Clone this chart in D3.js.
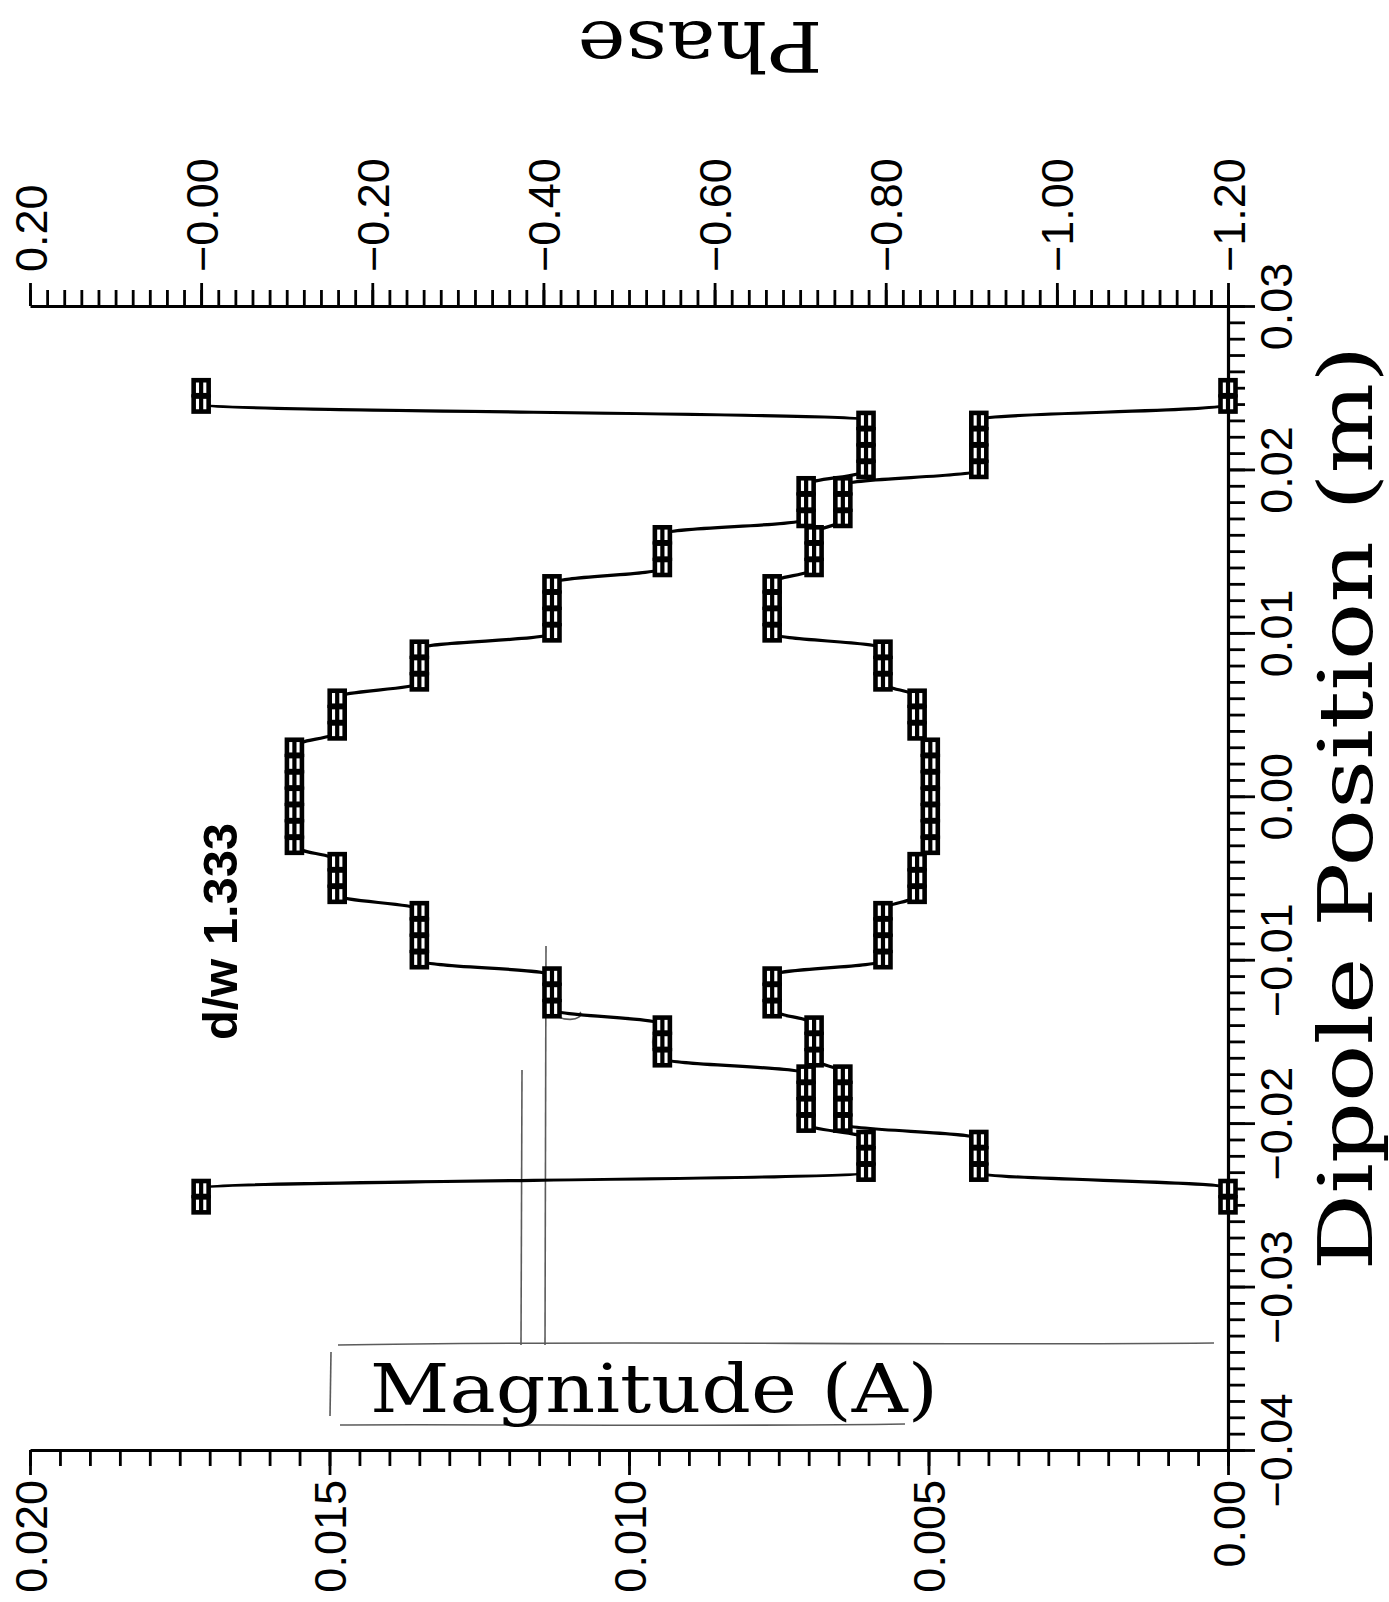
<!DOCTYPE html>
<html>
<head>
<meta charset="utf-8">
<script src="https://cdn.jsdelivr.net/npm/d3@7"></script>
<style>
  html, body { margin: 0; padding: 0; background: #fff; }
  svg { display: block; }
  .tick line { stroke: #000; stroke-width: 2.8; }
  .domain { stroke: #000; stroke-width: 3.2; }
</style>
</head>
<body>
<svg id="chart"></svg>
<script>
// dipole position (m), one sample every mm, top of the picture first
const positions = [
  0.025, 0.024, 0.023, 0.022, 0.021, 0.020, 0.019, 0.018, 0.017, 0.016,
  0.015, 0.014, 0.013, 0.012, 0.011, 0.010, 0.009, 0.008, 0.007, 0.006,
  0.005, 0.004, 0.003, 0.002, 0.001, 0.000, -0.001, -0.002, -0.003, -0.004,
  -0.005, -0.006, -0.007, -0.008, -0.009, -0.010, -0.011, -0.012, -0.013, -0.014,
  -0.015, -0.016, -0.017, -0.018, -0.019, -0.020, -0.021, -0.022, -0.023, -0.024,
  -0.025
];

// magnitude (A)
const magnitude = [
  0, 0, 0.00416, 0.00416, 0.00416, 0.00416, 0.00643, 0.00643, 0.00643, 0.00691,
  0.00691, 0.00691, 0.00761, 0.00761, 0.00761, 0.00761, 0.00576, 0.00576, 0.00576, 0.00519,
  0.00519, 0.00519, 0.00497, 0.00497, 0.00497, 0.00497, 0.00497, 0.00497, 0.00497, 0.00519,
  0.00519, 0.00519, 0.00576, 0.00576, 0.00576, 0.00576, 0.00761, 0.00761, 0.00761, 0.00691,
  0.00691, 0.00691, 0.00643, 0.00643, 0.00643, 0.00643, 0.00416, 0.00416, 0.00416, 0,
  0
];

// phase
const phase = [
  0, 0, -0.777, -0.777, -0.777, -0.777, -0.707, -0.707, -0.707, -0.539,
  -0.539, -0.539, -0.410, -0.410, -0.410, -0.410, -0.255, -0.255, -0.255, -0.159,
  -0.159, -0.159, -0.109, -0.109, -0.109, -0.109, -0.109, -0.109, -0.109, -0.159,
  -0.159, -0.159, -0.255, -0.255, -0.255, -0.255, -0.410, -0.410, -0.410, -0.539,
  -0.539, -0.539, -0.707, -0.707, -0.707, -0.707, -0.777, -0.777, -0.777, 0,
  0
];

const posTicks = [-0.04, -0.03, -0.02, -0.01, 0.00, 0.01, 0.02, 0.03];
const posLabels = ["\u22120.04", "\u22120.03", "\u22120.02", "\u22120.01", "0.00", "0.01", "0.02", "0.03"];
const magTicks = [0.020, 0.015, 0.010, 0.005, 0.000];
const magLabels = ["0.020", "0.015", "0.010", "0.005", "0.00"];
const phaseTicks = [0.2, 0.0, -0.2, -0.4, -0.6, -0.8, -1.0, -1.2];
const phaseLabels = ["0.20", "\u22120.00", "\u22120.20", "\u22120.40", "\u22120.60", "\u22120.80", "\u22121.00", "\u22121.20"];

const W = 1389, H = 1602;
const m = { left: 30, right: 1228, top: 306, bottom: 1450 };
const tickFont = "'Liberation Sans', Arial, sans-serif";
const titleFont = "'DejaVu Serif', serif";

const svg = d3.select("#chart").attr("width", W).attr("height", H);
svg.append("rect").attr("width", W).attr("height", H).attr("fill", "#fff");

// the plot is turned a quarter turn: position runs up the page
const y = d3.scaleLinear().domain([-0.04, 0.03]).range([m.bottom, m.top]);
const xMag = d3.scaleLinear().domain([0.020, 0]).range([m.left, m.right]);
const xPhase = d3.scaleLinear().domain([0.2, -1.2]).range([m.left, m.right]);

const minor = (a, b, n) => d3.range(n + 1).map(i => a + (b - a) * i / n);

// ---------------- scan marks (pen strokes round the magnitude label)
const pen = svg.append("g").attr("fill", "none").attr("stroke", "#333").attr("stroke-width", 1.6).attr("opacity", 0.8);
pen.append("path").attr("d", "M338,1345 C600,1340 900,1346 1214,1343");
pen.append("path").attr("d", "M331,1352 L330,1416");
pen.append("path").attr("d", "M340,1425 C500,1424 700,1427 905,1424");
pen.append("path").attr("d", "M546,946 L545,1345");
pen.append("path").attr("d", "M522,1070 L521,1345");
pen.append("path").attr("d", "M660,1020 C648,1040 650,1062 672,1066");
pen.append("path").attr("d", "M548,1008 C560,1025 585,1020 580,1012");

// ---------------- position axis (right)
const gPos = svg.append("g").attr("transform", `translate(${m.right},0)`);
gPos.append("g")
  .call(d3.axisRight(y).tickValues(minor(-0.04, 0.03, 70)).tickSize(17).tickSizeOuter(0).tickFormat(""));
gPos.append("g")
  .call(d3.axisRight(y).tickValues(posTicks).tickSize(27).tickSizeOuter(0).tickFormat((d, i) => posLabels[i]))
  .call(g => g.select(".domain").remove())
  .selectAll("text")
  .attr("x", 0).attr("dy", 0)
  .attr("transform", "translate(64,0) rotate(-90)")
  .attr("text-anchor", "middle")
  .style("font-family", tickFont).style("font-size", "45px").attr("fill", "#000");

// ---------------- magnitude axis (bottom)
const gMag = svg.append("g").attr("transform", `translate(0,${m.bottom})`);
gMag.append("g")
  .call(d3.axisBottom(xMag).tickValues(minor(0.020, 0, 40)).tickSize(16).tickSizeOuter(0).tickFormat(""));
gMag.append("g")
  .call(d3.axisBottom(xMag).tickValues(magTicks).tickSize(25).tickSizeOuter(0).tickFormat((d, i) => magLabels[i]))
  .call(g => g.select(".domain").remove())
  .selectAll("text")
  .attr("y", 0).attr("dy", 0)
  .attr("transform", "translate(16,30) rotate(-90)")
  .attr("text-anchor", "end")
  .style("font-family", tickFont).style("font-size", "45px").attr("fill", "#000");

// ---------------- phase axis (top)
const gPh = svg.append("g").attr("transform", `translate(0,${m.top})`);
gPh.append("g")
  .call(d3.axisTop(xPhase).tickValues(minor(0.2, -1.2, 70)).tickSize(16).tickSizeOuter(0).tickFormat(""));
gPh.append("g")
  .call(d3.axisTop(xPhase).tickValues(phaseTicks).tickSize(23).tickSizeOuter(0).tickFormat((d, i) => phaseLabels[i]))
  .call(g => g.select(".domain").remove())
  .selectAll("text")
  .attr("y", 0).attr("dy", 0)
  .attr("transform", "translate(16,-34) rotate(-90)")
  .attr("text-anchor", "start")
  .style("font-family", tickFont).style("font-size", "45px").attr("fill", "#000");

// ---------------- series
const magData = positions.map((p, i) => ({ p, v: magnitude[i] }));
const phData = positions.map((p, i) => ({ p, v: phase[i] }));

// vertical tangents at each sample, so jumps run across between the steps
const lineMag = d3.line().curve(d3.curveBumpY).x(d => xMag(d.v)).y(d => y(d.p));
const linePh = d3.line().curve(d3.curveBumpY).x(d => xPhase(d.v)).y(d => y(d.p));

svg.append("path").datum(phData).attr("d", linePh)
  .attr("fill", "none").attr("stroke", "#000").attr("stroke-width", 3.2);
svg.append("path").datum(magData).attr("d", lineMag)
  .attr("fill", "none").attr("stroke", "#000").attr("stroke-width", 3.2);

function markers(data, x) {
  const g = svg.append("g").selectAll("g").data(data).join("g")
    .attr("transform", d => `translate(${x(d.v)},${y(d.p)})`);
  g.append("rect")
    .attr("x", -7.5).attr("y", -7.5).attr("width", 15).attr("height", 15)
    .attr("fill", "#fff").attr("stroke", "#000").attr("stroke-width", 4.6);
  g.append("line")
    .attr("x1", 0).attr("x2", 0).attr("y1", -6).attr("y2", 6)
    .attr("stroke", "#000").attr("stroke-width", 4.2);
}
markers(phData, xPhase);
markers(magData, xMag);

// ---------------- titles
svg.append("text")
  .attr("transform", "translate(1372,808) rotate(-90)")
  .attr("text-anchor", "middle")
  .attr("textLength", 925).attr("lengthAdjust", "spacingAndGlyphs")
  .style("font-family", titleFont).style("font-size", "74px")
  .text("Dipole Position (m)");

svg.append("text")
  .attr("x", 370).attr("y", 1412)
  .attr("textLength", 568).attr("lengthAdjust", "spacingAndGlyphs")
  .style("font-family", titleFont).style("font-size", "68px")
  .text("Magnitude (A)");

svg.append("text")
  .attr("transform", "translate(700,22) rotate(180)")
  .attr("text-anchor", "middle")
  .attr("textLength", 245).attr("lengthAdjust", "spacingAndGlyphs")
  .style("font-family", titleFont).style("font-size", "70px")
  .text("Phase");

svg.append("text")
  .attr("transform", "translate(237,1040) rotate(-90)")
  .attr("textLength", 217).attr("lengthAdjust", "spacingAndGlyphs")
  .style("font-family", tickFont).style("font-size", "48px").style("font-weight", "bold")
  .text("d/w 1.333");
</script>
</body>
</html>
